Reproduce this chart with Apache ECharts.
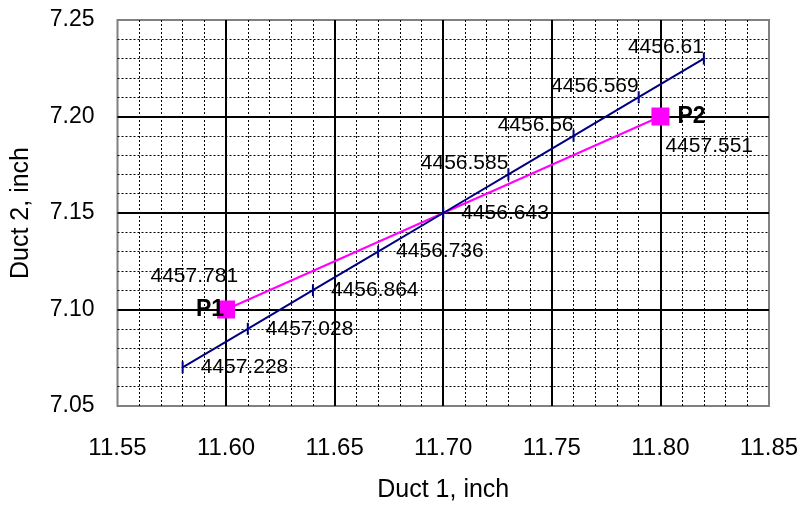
<!DOCTYPE html>
<html>
<head>
<meta charset="utf-8">
<script src="https://cdn.jsdelivr.net/npm/echarts@6/dist/echarts.min.js"></script>
<style>
  html, body { margin: 0; padding: 0; background: #fff; }
  #chart { width: 805px; height: 508px; }
</style>
</head>
<body>
<div id="chart"></div>
<script>
// Operating line: duct 1 vs duct 2 readings with the value at each point
const lineX = [11.58, 11.61, 11.64, 11.67, 11.70, 11.73, 11.76, 11.79, 11.82];
const lineY = [7.07, 7.09, 7.11, 7.13, 7.15, 7.17, 7.19, 7.21, 7.23];
const lineLabels = ['4457.228', '4457.028', '4456.864', '4456.736', '4456.643',
                    '4456.585', '4456.56', '4456.569', '4456.61'];

// End points P1 and P2
const endNames = ['P1', 'P2'];
const endX = [11.60, 11.80];
const endY = [7.10, 7.20];
const endLabels = ['4457.781', '4457.551'];

// Axis ranges and tick labels
const xTicks = ['11.55', '11.60', '11.65', '11.70', '11.75', '11.80', '11.85'];
const yTicks = ['7.05', '7.10', '7.15', '7.20', '7.25'];

const FONT = '"Liberation Sans", Arial, sans-serif';

const lineData = lineX.map((x, i) => {
  const right = i < 5;
  return {
    value: [x, lineY[i]],
    label: right
      ? { position: 'right', distance: 17, offset: [0, 0] }
      : { position: 'left', distance: -1, offset: [0, -11] }
  };
});

const endData = endX.map((x, i) => ({
  value: [x, endY[i]],
  label: i === 0
    ? { position: 'left', distance: -7, formatter: endNames[0] }
    : { position: 'right', distance: 8, formatter: endNames[1] }
}));

const endValueData = endX.map((x, i) => ({
  value: [x, endY[i]],
  label: i === 0
    ? { position: 'left', distance: 0, offset: [12, -33], formatter: endLabels[0] }
    : { position: 'right', distance: 5, offset: [0, 30], formatter: endLabels[1] }
}));

const chart = echarts.init(document.getElementById('chart'), null, { renderer: 'canvas' });

const gridLines = {
  axisLine: { show: false },
  axisTick: { show: false },
  splitLine: { show: true, showMinLine: false, showMaxLine: false,
               lineStyle: { color: '#000', width: 2 } },
  minorTick: { show: false, splitNumber: 5 },
  minorSplitLine: { show: true, lineStyle: { color: '#000', width: 1, type: [2, 2] } }
};

chart.setOption({
  animation: false,
  textStyle: { fontFamily: FONT },
  grid: {
    left: 117.5, right: 36, top: 20, bottom: 101,
    show: true, borderColor: '#808080', borderWidth: 2, backgroundColor: '#fff'
  },
  xAxis: Object.assign({
    type: 'value', min: 11.55, max: 11.85, interval: 0.05,
    name: 'Duct 1, inch', nameLocation: 'middle', nameGap: 72,
    nameTextStyle: { fontSize: 25, color: '#000', fontFamily: FONT },
    axisLabel: {
      margin: 30, fontSize: 24, color: '#000', fontFamily: FONT,
      formatter: v => xTicks[Math.round((v - 11.55) / 0.05)] ?? v.toFixed(2)
    }
  }, gridLines),
  yAxis: Object.assign({
    type: 'value', min: 7.05, max: 7.25, interval: 0.05,
    name: 'Duct 2, inch', nameLocation: 'middle', nameGap: 84, nameRotate: 90,
    nameTextStyle: { fontSize: 25, color: '#000', fontFamily: FONT },
    axisLabel: {
      margin: 23, fontSize: 23, color: '#000', fontFamily: FONT,
      formatter: v => yTicks[Math.round((v - 7.05) / 0.05)] ?? v.toFixed(2)
    }
  }, gridLines),
  series: [
    {
      type: 'line',
      data: endData,
      symbol: 'rect',
      symbolSize: 18,
      lineStyle: { color: '#ff00ff', width: 2 },
      itemStyle: { color: '#ff00ff' },
      label: { show: true, fontSize: 23, fontWeight: 'bold', color: '#000', fontFamily: FONT },
      z: 3
    },
    {
      type: 'line',
      data: lineData,
      symbol: 'rect',
      symbolSize: [2, 12],
      lineStyle: { color: '#000080', width: 2 },
      itemStyle: { color: '#000080' },
      label: {
        show: true, fontSize: 21, color: '#000', fontFamily: FONT,
        formatter: p => lineLabels[p.dataIndex]
      },
      z: 4
    },
    {
      type: 'scatter',
      data: endValueData,
      symbolSize: 0,
      itemStyle: { opacity: 1 },
      label: { show: true, fontSize: 21, color: '#000', fontFamily: FONT },
      silent: true,
      z: 5
    }
  ]
});
</script>
</body>
</html>
